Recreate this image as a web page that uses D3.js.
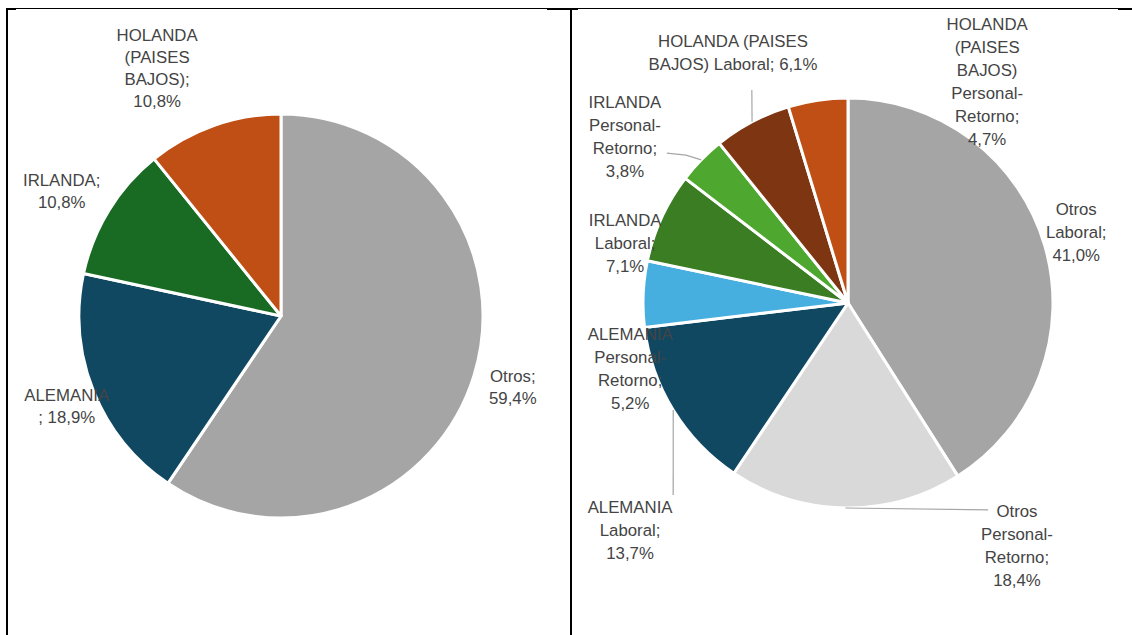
<!DOCTYPE html>
<html>
<head>
<meta charset="utf-8">
<script src="https://cdn.jsdelivr.net/npm/d3@7"></script>
<style>
  html, body { margin: 0; padding: 0; background: #fff; }
  svg { display: block; }
  .lbl { font-family: "Liberation Sans", Arial, sans-serif; font-size: 16.8px; fill: #444; }
</style>
</head>
<body>
<svg id="chart" width="1132" height="635"></svg>
<script>
// ---- data: left pie (by country) ----
var leftCategories = ["Otros", "ALEMANIA", "IRLANDA", "HOLANDA (PAISES BAJOS)"];
var leftValues = [59.4, 18.9, 10.8, 10.8];
var leftColors = ["#A5A5A5", "#104862", "#196B24", "#C04F15"];
var leftLabelLines = [
    ["Otros;", "{v}"],
    ["ALEMANIA", "; {v}"],
    ["IRLANDA;", "{v}"],
    ["HOLANDA", "(PAISES", "BAJOS);", "{v}"]
];

// ---- data: right pie (by country and type) ----
var rightCategories = [
    "Otros Laboral", "Otros Personal-Retorno",
    "ALEMANIA Laboral", "ALEMANIA Personal-Retorno",
    "IRLANDA Laboral", "IRLANDA Personal-Retorno",
    "HOLANDA (PAISES BAJOS) Laboral", "HOLANDA (PAISES BAJOS) Personal-Retorno"
];
var rightValues = [41.0, 18.4, 13.7, 5.2, 7.1, 3.8, 6.1, 4.7];
var rightColors = ["#A5A5A5", "#D9D9D9", "#104862", "#47AFDF", "#3B7D23", "#4EA72E", "#7E3512", "#C04F15"];
var rightLabelLines = [
    ["Otros", "Laboral;", "{v}"],
    ["Otros", "Personal-", "Retorno;", "{v}"],
    ["ALEMANIA", "Laboral;", "{v}"],
    ["ALEMANIA", "Personal-", "Retorno;", "{v}"],
    ["IRLANDA", "Laboral;", "{v}"],
    ["IRLANDA", "Personal-", "Retorno;", "{v}"],
    ["HOLANDA (PAISES", "BAJOS) Laboral; {v}"],
    ["HOLANDA", "(PAISES", "BAJOS)", "Personal-", "Retorno;", "{v}"]
];

// ---- label placement (polar: degrees clockwise from 12 o'clock, radius factor) ----
var leftLabelPos = [[107, 1.2], [247.3, 1.15], [299.7, 1.25], [333.4, 1.37]];
var rightLabelPos = [[72.7, 1.166], [145.2, 1.444], [223.8, 1.536], [253.2, 1.11],
                     [285.1, 1.126], [306.8, 1.359], [335.3, 1.343], [32.2, 1.274]];
// leader lines: list of polar points after the slice edge point, or null
var rightLeaders = [null, [[145.9, 1.219]], [[222.3, 1.267]], null, null,
                    [[312.4, 1.07], [309.6, 1.147]], [[335.7, 1.14]], null];

var svg = d3.select("#chart");
var fmt = function(v) { return d3.format(".1f")(v).replace(".", ",") + "%"; };

function polar(cx, cy, deg, r) {
    var a = deg * Math.PI / 180;
    return [cx + Math.sin(a) * r, cy - Math.cos(a) * r];
}

function drawPie(opts) {
    var g = svg.append("g").attr("transform", "translate(" + opts.cx + "," + opts.cy + ")");
    var pie = d3.pie().sort(null).value(function(d) { return d; });
    var arcs = pie(opts.values);
    var arc = d3.arc().innerRadius(0).outerRadius(opts.r);

    g.selectAll("path.slice")
        .data(arcs)
        .enter().append("path")
        .attr("class", "slice")
        .attr("d", arc)
        .attr("fill", function(d, i) { return opts.colors[i]; })
        .attr("stroke", "#fff")
        .attr("stroke-width", 3)
        .attr("stroke-linejoin", "round");

    // leader lines
    if (opts.leaders) {
        arcs.forEach(function(d, i) {
            var pts = opts.leaders[i];
            if (!pts) return;
            var mid = (d.startAngle + d.endAngle) / 2 * 180 / Math.PI;
            var line = [polar(0, 0, mid, opts.r)];
            pts.forEach(function(p) { line.push(polar(0, 0, p[0], p[1] * opts.r)); });
            g.append("path")
                .attr("d", d3.line()(line))
                .attr("fill", "none")
                .attr("stroke", "#A6A6A6")
                .attr("stroke-width", 1.2);
        });
    }

    // labels
    arcs.forEach(function(d, i) {
        var p = polar(0, 0, opts.labelPos[i][0], opts.labelPos[i][1] * opts.r);
        var lines = opts.lines[i].map(function(s) { return s.replace("{v}", fmt(opts.values[i])); });
        var y0 = p[1] - (lines.length - 1) * opts.lineH / 2;
        var t = g.append("text")
            .attr("class", "lbl")
            .attr("text-anchor", "middle");
        lines.forEach(function(s, k) {
            t.append("tspan")
                .attr("x", p[0])
                .attr("y", y0 + k * opts.lineH)
                .attr("dy", "0.35em")
                .text(s);
        });
    });
}

drawPie({ cx: 281, cy: 316, r: 202, values: leftValues, colors: leftColors, lineH: 22,
          lines: leftLabelLines, labelPos: leftLabelPos, leaders: null });
drawPie({ cx: 848, cy: 303, r: 205, values: rightValues, colors: rightColors, lineH: 23,
          lines: rightLabelLines, labelPos: rightLabelPos, leaders: rightLeaders });

// table borders around the two panels
var borders = svg.append("g").attr("stroke", "#000");
borders.append("line").attr("x1", 6).attr("x2", 1132).attr("y1", 8.5).attr("y2", 8.5).attr("stroke-width", 1);
[[6, 16], [547, 578], [1118, 1132]].forEach(function(s) {
    borders.append("line").attr("x1", s[0]).attr("x2", s[1]).attr("y1", 9).attr("y2", 9).attr("stroke-width", 2);
});
[7, 571].forEach(function(x) {
    borders.append("line").attr("x1", x).attr("x2", x).attr("y1", 8).attr("y2", 635).attr("stroke-width", 2);
});
</script>
</body>
</html>
